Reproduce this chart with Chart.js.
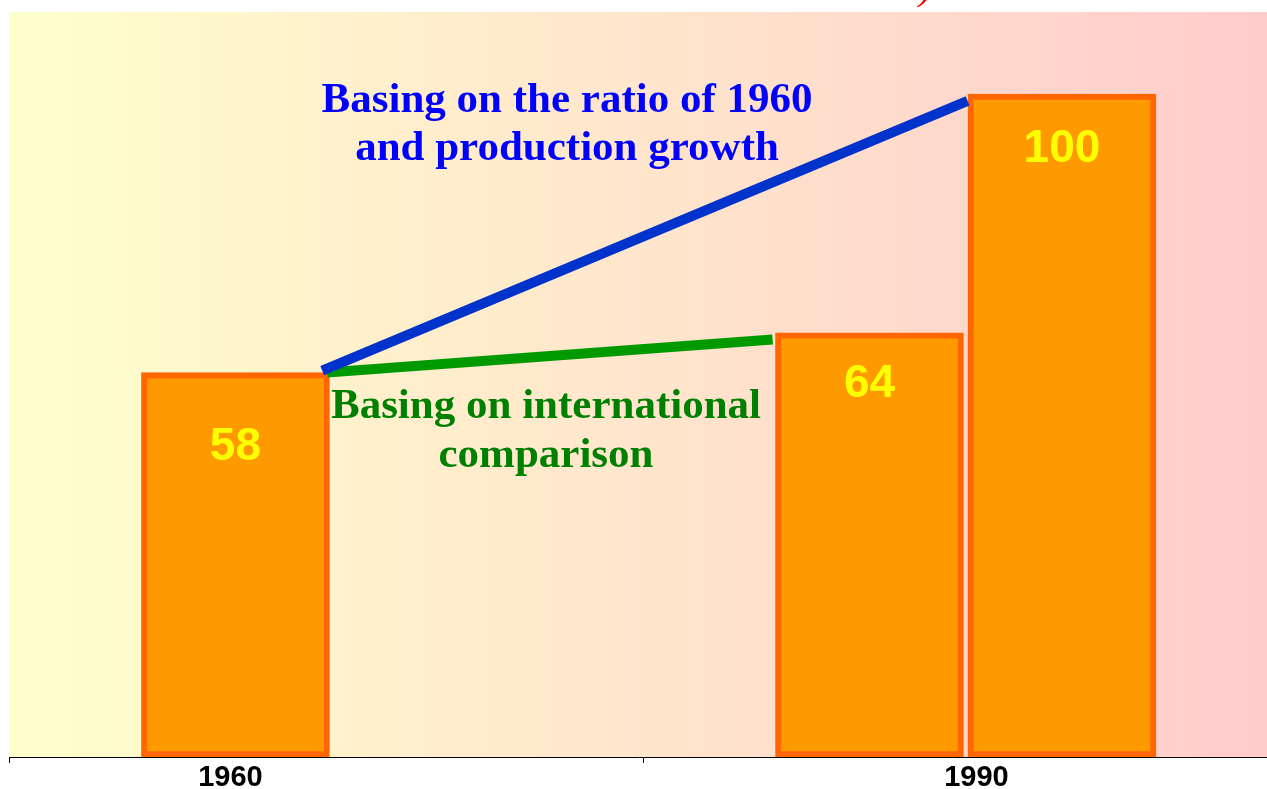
<!DOCTYPE html>
<html>
<head>
<meta charset="utf-8">
<script src="https://cdn.jsdelivr.net/npm/chart.js@4"></script>
<style>
  html, body { margin: 0; padding: 0; background: #ffffff; }
  #wrap { width: 1267px; height: 789px; }
</style>
</head>
<body>
<div id="wrap"><canvas id="myChart" width="1267" height="789"></canvas></div>
<script>
// data (x is a plain 0..10 position scale)
var years = ['1960', '1990'];
var yearPos = [1.76, 7.69];
var dividers = [0, 5.04, 10];
var barPos = [1.80, 6.84, 8.37];
var barValues = [58, 64, 100];
var blueX = [2.49, 7.62];
var blueY = [58.3, 99];
var greenX = [2.53, 6.07];
var greenY = [58, 63];

var tickVals = dividers.concat(yearPos).sort(function (a, b) { return a - b; });

function pts(xs, ys) {
    return xs.map(function (x, i) { return { x: x, y: ys[i] }; });
}

// gradient behind the plot area
var bgPlugin = {
    id: 'bg',
    beforeDraw: function (chart) {
        var ctx = chart.ctx, a = chart.chartArea;
        var g = ctx.createLinearGradient(a.left, 0, a.right, 0);
        g.addColorStop(0, '#FFFFCC');
        g.addColorStop(1, '#FFCCCC');
        ctx.save();
        ctx.fillStyle = g;
        ctx.fillRect(a.left, a.top, a.right - a.left, a.bottom - a.top);
        ctx.restore();
    }
};

// value labels + text notes
var textPlugin = {
    id: 'texts',
    afterDraw: function (chart) {
        var ctx = chart.ctx;
        var bars = chart.getDatasetMeta(0).data;
        var drop = [87, 64, 68];
        ctx.save();
        ctx.fillStyle = '#FFFF00';
        ctx.font = 'bold 46px "Liberation Sans", Arial, sans-serif';
        ctx.textAlign = 'center';
        ctx.textBaseline = 'alphabetic';
        bars.forEach(function (b, i) {
            ctx.fillText(String(barValues[i]), b.x, b.y + drop[i]);
        });

        ctx.font = 'bold 43px "Liberation Serif", "Times New Roman", serif';
        ctx.fillStyle = '#0000FF';
        ctx.fillText('Basing on the ratio of 1960', 567, 112);
        ctx.fillText('and production growth', 567, 160);

        ctx.fillStyle = '#008000';
        ctx.fillText('Basing on international', 546, 418);
        ctx.fillText('comparison', 546, 467);

        // cut-off red title mark at the very top
        ctx.fillStyle = '#FF0000';
        ctx.font = 'italic 40px "Liberation Serif", serif';
        ctx.textAlign = 'left';
        ctx.fillText(')', 919, -1);
        ctx.restore();
    }
};

new Chart('myChart', {
    type: 'bar',
    data: {
        datasets: [{
            type: 'bar',
            data: pts(barPos, barValues),
            backgroundColor: '#FF9900',
            borderColor: '#FF6600',
            borderWidth: 6,
            borderSkipped: false,
            barThickness: 188,
            order: 2
        }, {
            type: 'line',
            data: pts(blueX, blueY),
            borderColor: '#0033CC',
            borderWidth: 10,
            pointRadius: 0,
            tension: 0,
            clip: false,
            order: 1
        }, {
            type: 'line',
            data: pts(greenX, greenY),
            borderColor: '#009900',
            borderWidth: 10,
            pointRadius: 0,
            tension: 0,
            clip: false,
            order: 1
        }]
    },
    options: {
        responsive: false,
        animation: false,
        layout: { padding: { left: 9, top: 12, right: 0, bottom: -3 } },
        plugins: {
            legend: { display: false },
            tooltip: { enabled: false },
            title: { display: false }
        },
        scales: {
            x: {
                type: 'linear',
                min: 0,
                max: 10,
                offset: false,
                afterBuildTicks: function (scale) {
                    scale.ticks = tickVals.map(function (v) { return { value: v }; });
                },
                ticks: {
                    autoSkip: false,
                    maxRotation: 0,
                    padding: 0,
                    color: '#000000',
                    font: { family: '"Liberation Sans", Arial, sans-serif', size: 29, weight: 'bold', lineHeight: 1 },
                    callback: function (v) {
                        var i = yearPos.indexOf(v);
                        return i >= 0 ? years[i] : '';
                    }
                },
                grid: {
                    offset: false,
                    drawOnChartArea: false,
                    drawTicks: true,
                    tickLength: 6,
                    tickColor: function (c) {
                        return (c.tick && dividers.indexOf(c.tick.value) >= 0) ? '#000000' : 'rgba(0,0,0,0)';
                    }
                },
                border: { display: true, color: '#000000', width: 1 }
            },
            y: {
                display: false,
                min: 0,
                max: 112.4
            }
        }
    },
    plugins: [bgPlugin, textPlugin]
});
</script>
</body>
</html>
